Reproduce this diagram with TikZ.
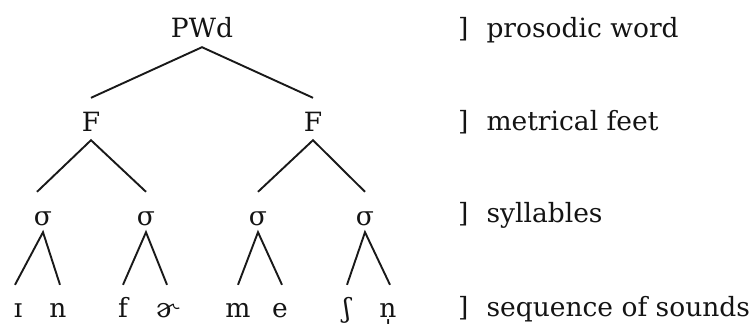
\documentclass[tikz,border=0pt]{standalone}
\usepackage{fontspec}
\setmainfont{DejaVu Serif}
\begin{document}
\begin{tikzpicture}[x=1pt,y=-1pt,
  txt/.style={font=\fontsize{26.5}{30}\selectfont, text=black!92, inner sep=0pt, anchor=base},
  top/.style={txt, text depth=10pt},
  foot/.style={txt, text height=33pt, text depth=9pt},
  syl/.style={txt, text height=33pt, text depth=7pt},
  seg/.style={txt, text height=32pt, text depth=0pt},
  lab/.style={txt, anchor=base west},
  branch/.style={draw=black!90, line width=1.9pt}]
\useasboundingbox (0,0) rectangle (752,324);
% tree
\node[top]  (pwd) at (202,37) {PWd};
\node[foot] (f1)  at (91,131) {F};
\node[foot] (f2)  at (313,131) {F};
\node[syl] (s1) at (43,225) {σ};
\node[syl] (s2) at (146,225) {σ};
\node[syl] (s3) at (258,225) {σ};
\node[syl] (s4) at (365,225) {σ};
\node[seg] (a1) at (18,317) {ɪ};
\node[seg] (a2) at (58,317) {n};
\node[seg] (b1) at (123,317) {f};
\node[seg] (b2) at (167,317) {ɚ};
\node[seg] (c1) at (238,317) {m};
\node[seg] (c2) at (280,317) {e};
\node[seg] (d1) at (347,317) {ʃ};
\node[seg] (d2) at (388,317) {n̩};
\draw[branch] (f1.north) -- (pwd.south) -- (f2.north);
\draw[branch] ([xshift=-6pt]s1.north) -- (f1.south) -- (s2.north);
\draw[branch] (s3.north) -- (f2.south) -- (s4.north);
\draw[branch] ([xshift=-3pt]a1.north) -- (s1.south) -- ([xshift=2pt]a2.north);
\draw[branch] (b1.north) -- (s2.south) -- (b2.north);
\draw[branch] (c1.north) -- (s3.south) -- ([xshift=2pt]c2.north);
\draw[branch] (d1.north) -- (s4.south) -- ([xshift=2pt]d2.north);
% level labels
\node[lab] (l1) at (458,37)  {]\hspace{18pt}prosodic word};
\node[lab] (l2) at (458,130) {]\hspace{18pt}metrical feet};
\node[lab] (l3) at (458,222) {]\hspace{18pt}syllables};
\node[lab] (l4) at (458,316) {]\hspace{18pt}sequence of sounds};
\end{tikzpicture}
\end{document}
